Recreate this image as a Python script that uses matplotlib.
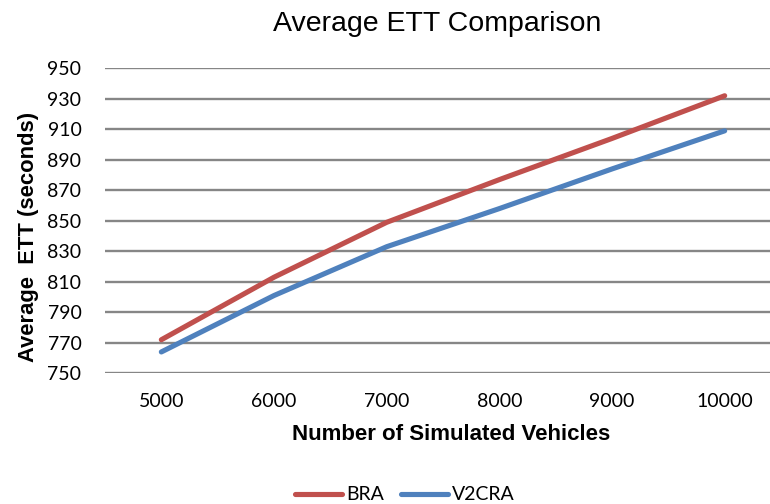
import matplotlib
matplotlib.use("Agg")
import matplotlib.pyplot as plt

categories = ["5000", "6000", "7000", "8000", "9000", "10000"]
bra = [772, 813, 849, 877, 904, 932]
v2cra = [764, 801, 833, 858, 884, 909]
series_names = ["BRA", "V2CRA"]
y_ticks = list(range(750, 951, 20))

W, H = 770, 504
fig = plt.figure(figsize=(W / 100, H / 100), dpi=100)
ax = fig.add_axes([105 / W, 1 - 373.3 / H, 676 / W, (373.3 - 68.3) / H])

x = list(range(len(categories)))
ax.plot(x, bra, color="#C0504D", lw=3.7, solid_capstyle="round", label=series_names[0], zorder=3)
ax.plot(x, v2cra, color="#4F81BD", lw=3.7, solid_capstyle="round", label=series_names[1], zorder=3)

ax.set_xlim(-0.5, len(categories) - 0.5)
ax.set_ylim(750, 950)
ax.set_yticks(y_ticks)
ax.set_xticks(x)
ax.set_xticklabels(categories)
ax.yaxis.grid(True, color="#868686", lw=1.7)
ax.set_axisbelow(True)
for s in ax.spines.values():
    s.set_visible(False)
tickfont = ["Lato", "DejaVu Sans"]
ax.tick_params(axis="both", length=0, labelsize=14, colors="#000000")
ax.tick_params(axis="y", pad=17)
ax.tick_params(axis="x", pad=14)
for lab in ax.get_xticklabels() + ax.get_yticklabels():
    lab.set_family(tickfont)

fig.text(437 / W, 1 - 24 / H, "Average ETT Comparison", ha="center", va="center",
         fontsize=20.5, family=["Liberation Sans", "DejaVu Sans"])
fig.text(451 / W, 1 - 434 / H, "Number of Simulated Vehicles", ha="center", va="center",
         fontsize=16, fontweight="bold", family=["Liberation Sans", "DejaVu Sans"])
fig.text(29 / W, 1 - 237 / H, "Average  ETT (seconds)", ha="center", va="center",
         rotation=90, fontsize=15.8, fontweight="bold", family=["Liberation Sans", "DejaVu Sans"])

leg = fig.legend(loc="center", bbox_to_anchor=(405 / W, 1 - 495 / H), ncol=2, frameon=False,
                 handlelength=2.4, handletextpad=0.2, columnspacing=0.9,
                 prop={"family": tickfont, "size": 14})
fig.savefig("out.png", dpi=100)
